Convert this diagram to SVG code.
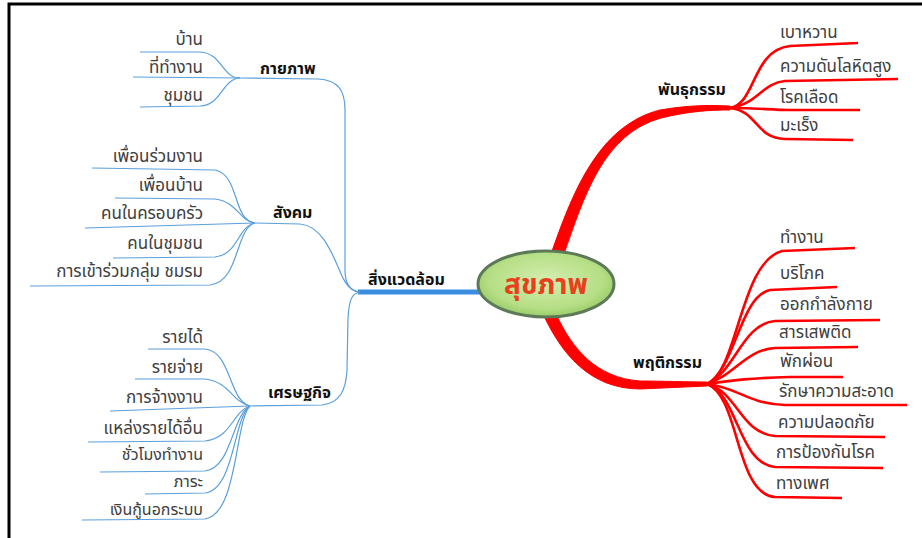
<svg xmlns="http://www.w3.org/2000/svg" width="922" height="538" viewBox="0 0 922 538">
<defs>
<radialGradient id="g" cx="50%" cy="45%" r="60%">
<stop offset="0" stop-color="#d4efb0"/>
<stop offset="0.7" stop-color="#b5de85"/>
<stop offset="1" stop-color="#8fc45e"/>
</radialGradient>
</defs>
<style>
text{font-family:"Noto Sans Thai","Noto Sans","Leelawadee UI",Tahoma,"DejaVu Sans",sans-serif}
.leaf{font-size:17px;fill:#404040}
.sm{font-size:16px}
.l{text-anchor:end}
.hd{font-size:16px;font-weight:bold;fill:#111}
.b{fill:none;stroke:#5b9fdb;stroke-width:1.2}
.r{fill:none;stroke:#f00;stroke-width:2.6}
.rt{fill:#f00;stroke:#f00;stroke-width:1;stroke-linejoin:round}
</style>
<rect x="0" y="0" width="922" height="538" fill="#fff"/>
<path d="M9 538 V4 H922" fill="none" stroke="#000" stroke-width="3"/>

<g id="connectors">
<line x1="358" y1="292" x2="480" y2="292" stroke="#3b8de0" stroke-width="5"/>
<path class="b" d="M240 78 L318 79 C338 80 345 90 345 110 L345 270 C345 283 350 291 360 292"/>
<path class="b" d="M255 223 L300 224 C325 226 335 262 343 278 C348 288 353 292 360 292"/>
<path class="b" d="M250 406 L322 405 C340 403 346 390 347 370 L348 318 C349 300 352 293 360 292"/>
<path class="b" d="M140 52 L200 52 C222 53 222 78 240 78"/>
<path class="b" d="M133 77 L240 78"/>
<path class="b" d="M140 107 L200 106 C222 105 222 79 240 78"/>
<path class="b" d="M92 168 L215 170 C240 175 232 220 255 223"/>
<path class="b" d="M115 198 L215 199 C238 202 238 220 255 223"/>
<path class="b" d="M85 228 L255 223"/>
<path class="b" d="M113 258 L215 257 C238 255 238 226 255 223"/>
<path class="b" d="M30 286 L210 285 C240 282 235 228 255 223"/>
<path class="b" d="M148 349 L205 349 C232 352 228 400 250 406"/>
<path class="b" d="M135 379 L205 379 C230 382 232 402 250 406"/>
<path class="b" d="M110 411 L250 406"/>
<path class="b" d="M88 442 L205 441 C232 438 232 412 250 406"/>
<path class="b" d="M100 472 L205 471 C232 468 232 415 250 406"/>
<path class="b" d="M145 494 L205 493 C235 489 233 418 250 406"/>
<path class="b" d="M82 520 L205 519 C238 514 235 420 250 406"/>

<path class="rt" d="M551 254 C572 195 597 126 660 110 C690 105 710 105 730 106 L730 110 C710 110 690 111 661 118 C603 134 584 197 564 254 Z"/>
<path class="rt" d="M544 316 C561 352 589 389 640 389 L707 386 L707 382 C690 382 660 381 640 381 C596 378 572 348 557 316 Z"/>

<path class="r" d="M730 108 C756 104 752 50 790 46 L858 43"/>
<path class="r" d="M730 108 C758 104 762 83 785 81 L898 79"/>
<path class="r" d="M730 108 C760 108 770 110 790 110 L860 110"/>
<path class="r" d="M730 108 C758 111 755 138 785 139 L853 140"/>

<path class="r" d="M707 384 C738 372 740 262 782 251 L855 248"/>
<path class="r" d="M707 384 C735 370 740 296 770 290 L837 287"/>
<path class="r" d="M707 384 C735 372 742 324 775 321 L880 320"/>
<path class="r" d="M707 384 C735 375 745 350 775 348 L858 347"/>
<path class="r" d="M707 384 C735 380 750 378 790 377 L843 377"/>
<path class="r" d="M707 384 C740 388 745 403 785 405 L907 405"/>
<path class="r" d="M707 384 C738 392 740 433 775 436 L885 437"/>
<path class="r" d="M707 384 C738 394 738 463 775 467 L883 468"/>
<path class="r" d="M707 384 C740 396 735 494 775 497 L842 498"/>
</g>

<g id="center">
<ellipse cx="546" cy="284" rx="68" ry="33" fill="url(#g)" stroke="#5c7a58" stroke-width="3"/>
<text x="546" y="294" text-anchor="middle" font-size="28" font-weight="bold" fill="#e8401c">สุขภาพ</text>
</g>

<g id="n-env"><text class="hd" x="368" y="285">สิ่งแวดล้อม</text></g>
<g id="n-phys"><text class="hd" x="260" y="74">กายภาพ</text></g>
<g id="n-soc"><text class="hd" x="273" y="218">สังคม</text></g>
<g id="n-eco"><text class="hd" x="268" y="398">เศรษฐกิจ</text></g>
<g id="n-gen"><text class="hd" x="658" y="95">พันธุกรรม</text></g>
<g id="n-beh"><text class="hd" x="633" y="368">พฤติกรรม</text></g>

<g id="phys-leaves">
<g id="p1"><text class="leaf l" x="203" y="45">บ้าน</text></g>
<g id="p2"><text class="leaf l" x="203" y="73">ที่ทำงาน</text></g>
<g id="p3"><text class="leaf l" x="203" y="101">ชุมชน</text></g>
</g>
<g id="soc-leaves">
<g id="s1"><text class="leaf l" x="203" y="162">เพื่อนร่วมงาน</text></g>
<g id="s2"><text class="leaf l" x="203" y="191">เพื่อนบ้าน</text></g>
<g id="s3"><text class="leaf l" x="203" y="219">คนในครอบครัว</text></g>
<g id="s4"><text class="leaf l" x="203" y="249">คนในชุมชน</text></g>
<g id="s5"><text class="leaf l" x="203" y="277">การเข้าร่วมกลุ่ม ชมรม</text></g>
</g>
<g id="eco-leaves">
<g id="e1"><text class="leaf l" x="203" y="343">รายได้</text></g>
<g id="e2"><text class="leaf l" x="203" y="373">รายจ่าย</text></g>
<g id="e3"><text class="leaf l" x="203" y="403">การจ้างงาน</text></g>
<g id="e4"><text class="leaf l" x="203" y="434">แหล่งรายได้อื่น</text></g>
<g id="e5"><text class="leaf sm l" x="203" y="460">ชั่วโมงทำงาน</text></g>
<g id="e6"><text class="leaf sm l" x="203" y="487">ภาระ</text></g>
<g id="e7"><text class="leaf sm l" x="203" y="515">เงินกู้นอกระบบ</text></g>
</g>
<g id="gen-leaves">
<g id="g1"><text class="leaf" x="780" y="38">เบาหวาน</text></g>
<g id="g2"><text class="leaf" x="780" y="72">ความดันโลหิตสูง</text></g>
<g id="g3"><text class="leaf" x="780" y="103">โรคเลือด</text></g>
<g id="g4"><text class="leaf" x="780" y="131">มะเร็ง</text></g>
</g>
<g id="beh-leaves">
<g id="b1"><text class="leaf" x="780" y="243">ทำงาน</text></g>
<g id="b2"><text class="leaf" x="780" y="279">บริโภค</text></g>
<g id="b3"><text class="leaf" x="780" y="310">ออกกำลังกาย</text></g>
<g id="b4"><text class="leaf" x="779" y="338">สารเสพติด</text></g>
<g id="b5"><text class="leaf" x="780" y="367">พักผ่อน</text></g>
<g id="b6"><text class="leaf" x="779" y="397">รักษาความสะอาด</text></g>
<g id="b7"><text class="leaf" x="778" y="428">ความปลอดภัย</text></g>
<g id="b8"><text class="leaf" x="776" y="458">การป้องกันโรค</text></g>
<g id="b9"><text class="leaf" x="776" y="489">ทางเพศ</text></g>
</g>
</svg>
